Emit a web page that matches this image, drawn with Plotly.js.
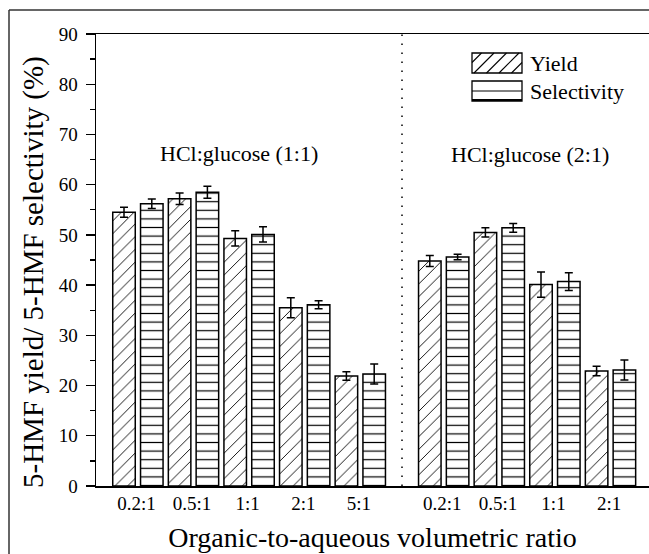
<!DOCTYPE html>
<html>
<head>
<meta charset="utf-8">
<script src="https://cdn.plot.ly/plotly-3.0.1.min.js"></script>
<style>
html,body{margin:0;padding:0;background:#fff;}
#chart{width:649px;height:554px;}
</style>
</head>
<body>
<div id="chart"></div>
<script>
// ---- data ----
const ratios1 = ["0.2:1", "0.5:1", "1:1", "2:1", "5:1"];      // HCl:glucose (1:1)
const ratios2 = ["0.2:1", "0.5:1", "1:1", "2:1"];             // HCl:glucose (2:1)
const yield1 = [54.5, 57.2, 49.3, 35.5, 21.9];
const yieldErr1 = [1.0, 1.15, 1.5, 2.0, 0.85];
const sel1 = [56.2, 58.5, 50.1, 36.1, 22.3];
const selErr1 = [0.95, 1.2, 1.5, 0.8, 2.0];
const yield2 = [44.8, 50.5, 40.1, 22.9];
const yieldErr2 = [1.1, 0.9, 2.5, 0.95];
const sel2 = [45.6, 51.4, 40.7, 23.1];
const selErr2 = [0.55, 0.85, 1.75, 2.0];
const groupLabels = ["HCl:glucose (1:1)", "HCl:glucose (2:1)"];
const seriesNames = ["Yield", "Selectivity"];
const xTitle = "Organic-to-aqueous volumetric ratio";
const yTitle = "5-HMF yield/ 5-HMF selectivity (%)";

// ---- positions derived from indices ----
const g2start = 2 * ratios1.length + 1;
const posY = ratios1.map((_, i) => 2 * i).concat(ratios2.map((_, i) => g2start + 2 * i));
const posS = posY.map(p => p + 1);
const tickPos = posY.map(p => p + 0.45);
const tickText = ratios1.concat(ratios2);
const yVals = yield1.concat(yield2), yErr = yieldErr1.concat(yieldErr2);
const sVals = sel1.concat(sel2), sErr = selErr1.concat(selErr2);

const FONT = "Liberation Serif, Times New Roman, serif";

// layout geometry (pixels)
const W = 649, H = 554, L = 96, R = 0, T = 34, B = 68;
const PW = W - L - R, PH = H - T - B;
const px = x => (x - L) / PW;
const py = y => (H - B - y) / PH;

const traces = [
  {
    type: "bar", name: seriesNames[0], x: posY, y: yVals, width: 0.81,
    marker: { color: "white", line: { color: "black", width: 1.5 },
      pattern: { shape: "/", fgcolor: "black", bgcolor: "white", size: 9, solidity: 0.1 } },
    error_y: { type: "data", array: yErr, visible: true, color: "black", thickness: 1.5, width: 4 },
    hoverinfo: "skip"
  },
  {
    type: "bar", name: seriesNames[1], x: posS, y: sVals, width: 0.81,
    marker: { color: "white", line: { color: "black", width: 1.5 },
      pattern: { shape: "-", fgcolor: "black", bgcolor: "white", size: 8.6, solidity: 0.14 } },
    error_y: { type: "data", array: sErr, visible: true, color: "black", thickness: 1.5, width: 4 },
    hoverinfo: "skip"
  }
];

// manual legend swatches (large hatched boxes)
const shapes = [];
const lx0 = 472, lx1 = 522;
function rectShape(x0, y0, x1, y1, w) {
  return { type: "rect", xref: "paper", yref: "paper", x0: px(x0), x1: px(x1), y0: py(y1), y1: py(y0),
    line: { color: "black", width: w }, fillcolor: "rgba(0,0,0,0)" };
}
function lineShape(x0, y0, x1, y1, w, color) {
  return { type: "line", xref: "paper", yref: "paper", x0: px(x0), x1: px(x1), y0: py(y0), y1: py(y1),
    line: { color: color || "black", width: w } };
}
// Yield swatch
const yT = 53, yB = 73;
shapes.push(rectShape(lx0, yT, lx1, yB, 1.3));
for (let k = -1; k < 5; k++) {
  let xa = lx0 + 2 + k * 12.5, ya = yB, xb = xa + 20, yb = yT;
  if (xa < lx0) { ya = yB - (lx0 - xa); xa = lx0; }
  if (xb > lx1) { yb = yT + (xb - lx1); xb = lx1; }
  if (xb > xa) shapes.push(lineShape(xa, ya, xb, yb, 1.1));
}
// Selectivity swatch
const sT = 81, sB = 101;
shapes.push(rectShape(lx0, sT, lx1, sB, 1.3));
shapes.push(lineShape(lx0, (sT + sB) / 2, lx1, (sT + sB) / 2, 1.1));
shapes.push(lineShape(lx0, sB - 1, lx1, sB - 1, 2.2));
// outer figure frame (left and top visible)
shapes.push(lineShape(9, 10, 9, H + 5, 1.5, "#333"));
shapes.push(lineShape(9, 10, W + 5, 10, 1.5, "#333"));
// dotted separator between the groups
shapes.push({ type: "line", xref: "x", yref: "paper", x0: g2start - 1, x1: g2start - 1, y0: 0, y1: 1,
  line: { color: "black", width: 1.5, dash: "1.5px,7.5px" } });

const annotations = [
  { xref: "paper", yref: "paper", x: px(528), y: py(63), xanchor: "left", yanchor: "middle",
    text: seriesNames[0], showarrow: false, font: { family: FONT, size: 22, color: "black" } },
  { xref: "paper", yref: "paper", x: px(528), y: py(91), xanchor: "left", yanchor: "middle",
    text: seriesNames[1], showarrow: false, font: { family: FONT, size: 22, color: "black" } },
  { xref: "x", yref: "y", x: 4.12, y: 66.3, xanchor: "center", yanchor: "middle",
    text: groupLabels[0], showarrow: false, font: { family: FONT, size: 22, color: "black" } },
  { xref: "x", yref: "y", x: 14.6, y: 66.1, xanchor: "center", yanchor: "middle",
    text: groupLabels[1], showarrow: false, font: { family: FONT, size: 22, color: "black" } },
  { xref: "paper", yref: "paper", x: px(33), y: py(272), xanchor: "center", yanchor: "middle",
    textangle: -90, text: yTitle, showarrow: false, font: { family: FONT, size: 29, color: "black" } }
];

const layout = {
  width: W, height: H,
  margin: { l: L, r: R, t: T, b: B, pad: 0 },
  paper_bgcolor: "white", plot_bgcolor: "white",
  showlegend: false,
  font: { family: FONT, color: "black", size: 19 },
  barmode: "overlay",
  xaxis: {
    range: [(L - 124) / 27.8, (W - R - 124) / 27.8],
    showgrid: false, zeroline: false,
    showline: true, linecolor: "black", linewidth: 1.5, mirror: true,
    ticks: "", tickvals: tickPos, ticktext: tickText,
    tickfont: { family: FONT, size: 19, color: "black" },
    ticklabelstandoff: 0,
    title: { text: xTitle, font: { family: FONT, size: 28, color: "black" }, standoff: 14 },
    automargin: false
  },
  yaxis: {
    range: [0, 90], dtick: 10, tick0: 0,
    showgrid: false, zeroline: false,
    showline: true, linecolor: "black", linewidth: 1.5,
    ticks: "outside", ticklen: 9, tickwidth: 1.3, tickcolor: "black",
    minor: { dtick: 5, ticks: "outside", ticklen: 5, tickwidth: 1.3, tickcolor: "black" },
    tickfont: { family: FONT, size: 19, color: "black" },
    ticklabelstandoff: 4,
    automargin: false
  },
  shapes: shapes,
  annotations: annotations
};

Plotly.newPlot("chart", traces, layout, { displayModeBar: false, staticPlot: true });
</script>
</body>
</html>
